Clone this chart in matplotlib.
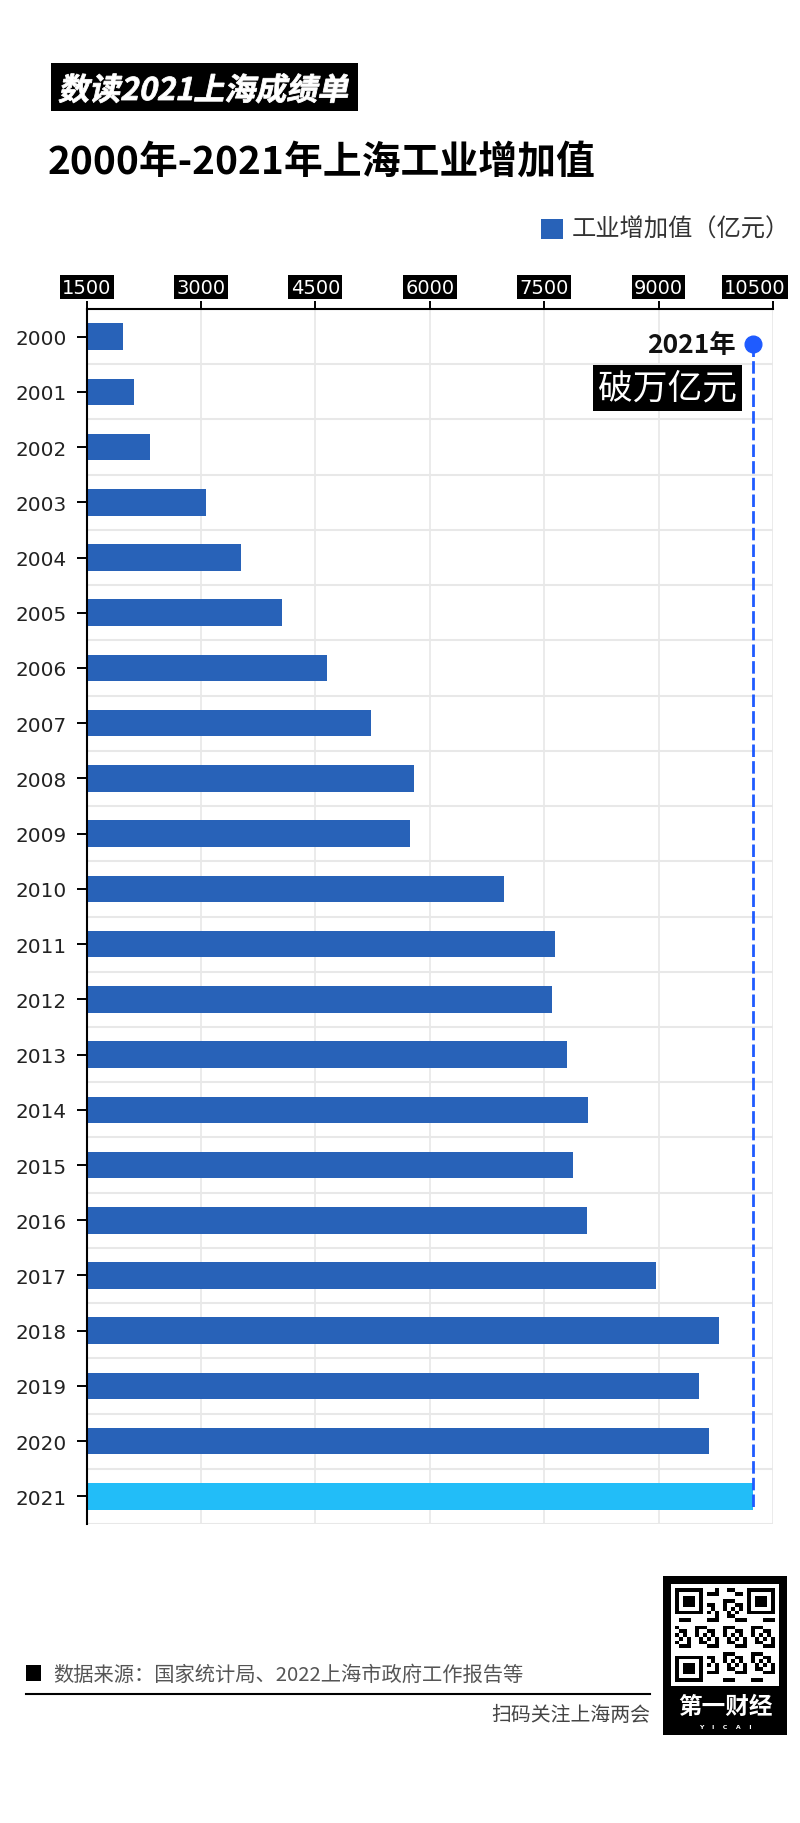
import numpy as np
import matplotlib
matplotlib.use('Agg')
import matplotlib.pyplot as plt
import matplotlib.transforms as mtransforms
from matplotlib.patches import Rectangle, PathPatch
from matplotlib.textpath import TextPath
from matplotlib.font_manager import FontProperties

plt.rcParams['font.family'] = ['Noto Sans CJK SC', 'DejaVu Sans']

# 数据（亿元），读自原图
years = [str(y) for y in range(2000, 2022)]
values = [1974, 2121, 2328, 3063, 3518, 4059, 4647, 5235, 5796, 5736, 6979,
          7647, 7607, 7801, 8075, 7881, 8055, 8970, 9792, 9531, 9665, 10239]
x_ticks = [1500, 3000, 4500, 6000, 7500, 9000, 10500]
highlight_year = '2021'

BAR = '#2862b8'
HIGHLIGHT = '#22bdf8'
LINE = '#1f5bff'
GRID = '#e8e8e8'

W, H, DPI = 800, 1824, 100
fig = plt.figure(figsize=(W / DPI, H / DPI), dpi=DPI)
fig.patch.set_facecolor('white')


def fx(px):
    return px / W


def fy(py):
    # py 从顶部量起
    return 1 - py / H


# 顶部标签
fig.add_artist(Rectangle((fx(50.5), fy(112)), 307.5 / W, 48 / H,
                         transform=fig.transFigure, facecolor='black', edgecolor='none'))
fp = FontProperties(family='Noto Sans CJK SC', weight='bold')
tp = TextPath((0, 0), '数读2021上海成绩单', size=31, prop=fp)
tr = mtransforms.Affine2D().skew_deg(12, 0).translate(58, H - 101).scale(1 / DPI) + fig.dpi_scale_trans
fig.add_artist(PathPatch(tp, transform=tr, facecolor='white', edgecolor='white', lw=0.6))

# 标题
fig.text(fx(48), fy(162), '2000年-2021年上海工业增加值', fontsize=28,
         fontweight='bold', color='black', va='center', ha='left')

# 图例
fig.add_artist(Rectangle((fx(541), fy(240)), 22 / W, 20 / H,
                         transform=fig.transFigure, facecolor=BAR, edgecolor='none'))
fig.text(fx(572), fy(230), '工业增加值（亿元）', fontsize=17.5, color='#333333',
         va='center', ha='left')

# 主图
ax = fig.add_axes([fx(86.6), fy(1525), (773 - 86.6) / W, 1215 / H])
idx = np.arange(len(years))
colors = [HIGHLIGHT if y == highlight_year else BAR for y in years]
ax.barh(idx, values, height=0.48, color=colors, zorder=2)
ax.set_xlim(x_ticks[0], x_ticks[-1])
ax.set_ylim(len(years) - 0.5, -0.5)

ax.set_yticks(idx, years)
ax.set_yticks(np.arange(-0.5, len(years) + 0.5, 1), minor=True)
ax.set_xticks(x_ticks)
ax.xaxis.tick_top()
ax.tick_params(axis='x', which='major', length=5.8, width=1.4, color='black',
               labeltop=False, labelbottom=False, top=True, bottom=False)
ax.tick_params(axis='y', which='major', length=7.2, width=1.4, pad=7,
               labelsize=14.4, labelcolor='#222222')
ax.tick_params(axis='y', which='minor', length=0)
for lbl in ax.get_yticklabels():
    lbl.set_fontfamily('DejaVu Sans')

for s in ['bottom', 'right']:
    ax.spines[s].set_visible(False)
for s in ['top', 'left']:
    ax.spines[s].set_linewidth(1.5)
    ax.spines[s].set_color('black')

ax.grid(axis='x', which='major', color=GRID, lw=1.2)
ax.grid(axis='y', which='minor', color=GRID, lw=1.5)
ax.set_axisbelow(True)

# x轴刻度标签（黑底白字）
lab_tr = ax.get_xaxis_transform()
for i, t in enumerate(x_ticks):
    dx = -18 if i == len(x_ticks) - 1 else 0
    off = mtransforms.ScaledTranslation(dx / DPI, 22 / DPI, fig.dpi_scale_trans)
    ax.text(t, 1, str(t), transform=lab_tr + off, ha='center', va='center',
            fontsize=14, color='white', family='DejaVu Sans',
            bbox=dict(boxstyle='square,pad=0.12', fc='black', ec='none'), clip_on=False)

# 2021 标注
v21 = values[years.index(highlight_year)]
i21 = years.index(highlight_year)
ax.plot([v21, v21], [0.134, i21 + 0.24], color=LINE, lw=2, dashes=(4.5, 1.5),
        zorder=3, clip_on=False)
ax.plot([v21], [0.134], 'o', ms=12, color=LINE, zorder=4, clip_on=False)
ax.annotate('2021年', xy=(v21, 0.134), xytext=(-17, 0), textcoords='offset pixels',
            ha='right', va='center', fontsize=19, fontweight='bold', color='#111111')
ax.annotate('破万亿元', xy=(v21, 0.93), xytext=(-16, 0), textcoords='offset pixels',
            ha='right', va='center', fontsize=25, color='white',
            bbox=dict(boxstyle='square,pad=0.15', fc='black', ec='none'))

# 底部来源
fig.add_artist(Rectangle((fx(25.5), fy(1682)), 15.5 / W, 16 / H,
                         transform=fig.transFigure, facecolor='black', edgecolor='none'))
fig.text(fx(53.5), fy(1675), '数据来源：国家统计局、2022上海市政府工作报告等',
         fontsize=14.6, color='#555555', va='center', ha='left')
fig.add_artist(plt.Line2D([fx(25.5), fx(650)], [fy(1695), fy(1695)],
                          transform=fig.transFigure, color='black', lw=1.5))
fig.text(fx(650), fy(1716), '扫码关注上海两会', fontsize=14.3, color='#444444',
         va='center', ha='right')

# 二维码块
fig.add_artist(Rectangle((fx(663), fy(1736)), 124 / W, 159 / H,
                         transform=fig.transFigure, facecolor='black', edgecolor='none'))
fig.add_artist(Rectangle((fx(671), fy(1687)), 108 / W, 102 / H,
                         transform=fig.transFigure, facecolor='white', edgecolor='none'))
qax = fig.add_axes([fx(675), fy(1683), 100 / W, 94 / H])
qax.set_zorder(3)
n = 25
ii, jj = np.mgrid[0:n, 0:n]
qr = ((ii * 3 + jj * 5 + ii * jj) % 7 < 3).astype(int)
for r0, c0 in [(0, 0), (0, n - 8), (n - 8, 0)]:
    qr[r0:r0 + 8, c0:c0 + 8] = 0
for r0, c0 in [(0, 0), (0, n - 7), (n - 7, 0)]:
    block = np.ones((7, 7), dtype=int)
    block[1:6, 1:6] = 0
    block[2:5, 2:5] = 1
    qr[r0:r0 + 7, c0:c0 + 7] = block
qax.imshow(qr, cmap='Greys', interpolation='nearest', aspect='auto')
qax.axis('off')
fig.text(fx(725), fy(1707), '第一财经', fontsize=17, fontweight='bold', color='white',
         ha='center', va='center')
fig.text(fx(725), fy(1728), 'Y    I    C    A    I', fontsize=4.5, color='white',
         ha='center', va='center', family='DejaVu Sans', fontweight='bold')

fig.savefig('out.png', dpi=DPI)
